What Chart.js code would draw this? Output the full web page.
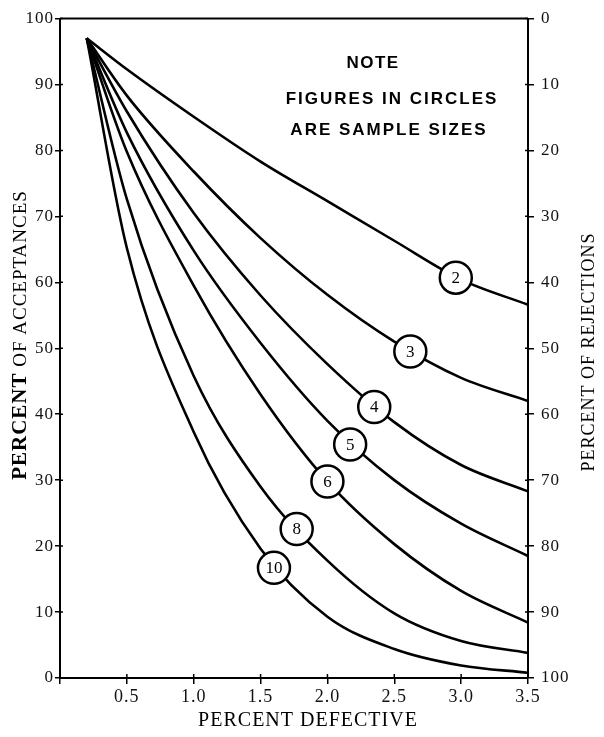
<!DOCTYPE html>
<html>
<head>
<meta charset="utf-8">
<script src="https://cdn.jsdelivr.net/npm/chart.js@4.4.1/dist/chart.umd.min.js"></script>
<style>
  html, body { margin: 0; padding: 0; background: #fff; }
</style>
</head>
<body>
<canvas id="ocChart" width="604" height="737"></canvas>
<script>
// percent defective (x) and percent of acceptances for each sample size
const defectPct = [0.2, 0.5, 1.0, 1.5, 2.0, 2.5, 3.0, 3.5];
const accept2  = [97, 92.3, 85.1, 78.3, 72.3, 66.3, 60.4, 56.6];
const accept3  = [97, 88.3, 76.8, 66.7, 58.1, 51.0, 45.5, 42.0];
const accept4  = [97, 85.9, 70.5, 58.0, 47.6, 38.8, 32.3, 28.3];
const accept5  = [97, 82.7, 64.8, 50.8, 39.0, 30.0, 23.4, 18.5];
const accept6  = [97, 79.8, 59.5, 43.0, 29.8, 20.3, 13.2, 8.4];
const accept8  = [97, 72.6, 45.8, 29.0, 17.8, 9.8, 5.6, 3.8];
const accept10 = [97, 65.2, 37.3, 19.6, 9.3, 4.4, 1.9, 0.8];

// circled sample-size labels and where they sit on the curves
const sampleSizes = ['2', '3', '4', '5', '6', '8', '10'];
const labelX = [2.96, 2.62, 2.35, 2.17, 2.0, 1.77, 1.6];
const labelY = [60.7, 49.5, 41.1, 35.4, 29.8, 22.6, 16.7];

const noteLines = ['NOTE', 'FIGURES IN CIRCLES', 'ARE SAMPLE SIZES'];

const curves = [accept2, accept3, accept4, accept5, accept6, accept8, accept10];

function toPoints(xs, ys) {
    return xs.map((x, i) => ({ x: x, y: ys[i] }));
}

const serif = '"Liberation Serif", "DejaVu Serif", serif';
const sans = '"Liberation Sans", Arial, sans-serif';

const datasets = [{
    type: 'scatter',
    label: 'sizes',
    data: toPoints(labelX, labelY),
    pointRadius: 16,
    pointHoverRadius: 16,
    pointBackgroundColor: '#fff',
    pointBorderColor: '#000',
    pointBorderWidth: 2.5,
    showLine: false,
    order: 0
}];
curves.forEach((c, i) => {
    datasets.push({
        label: 'n=' + sampleSizes[i],
        data: toPoints(defectPct, c),
        borderColor: '#000',
        borderWidth: 2.6,
        pointRadius: 0,
        fill: false,
        cubicInterpolationMode: 'monotone',
        order: 1
    });
});

// draws the frame top, inner ticks, the axis titles, the note and the numbers in circles
const decorPlugin = {
    id: 'decor',
    beforeDraw(chart) {
        chart.ctx.letterSpacing = '1px';
    },
    afterDatasetsDraw(chart) {
        const ctx = chart.ctx;
        const meta = chart.getDatasetMeta(0);
        ctx.save();
        ctx.letterSpacing = '0px';
        ctx.fillStyle = '#000';
        ctx.font = '17px ' + serif;
        ctx.textAlign = 'center';
        ctx.textBaseline = 'middle';
        meta.data.forEach((pt, i) => {
            ctx.fillText(sampleSizes[i], pt.x, pt.y + 1);
        });
        ctx.restore();
    },
    afterDraw(chart) {
        const ctx = chart.ctx;
        const area = chart.chartArea;
        const sx = chart.scales.x, sy = chart.scales.y, sr = chart.scales.yR;
        ctx.save();
        ctx.strokeStyle = '#000';
        ctx.lineWidth = 2;
        ctx.beginPath();
        ctx.moveTo(area.left, area.top);
        ctx.lineTo(area.right, area.top);
        ctx.stroke();

        // short tick stubs inside the frame
        ctx.lineWidth = 1.5;
        ctx.beginPath();
        sy.ticks.forEach(t => {
            const p = sy.getPixelForValue(t.value);
            ctx.moveTo(area.left, p); ctx.lineTo(area.left + 3, p);
        });
        sr.ticks.forEach(t => {
            const p = sr.getPixelForValue(t.value);
            ctx.moveTo(area.right - 3, p); ctx.lineTo(area.right, p);
        });
        sx.ticks.forEach(t => {
            if (t.value === 0) return;
            const p = sx.getPixelForValue(t.value);
            ctx.moveTo(p, area.bottom - 4); ctx.lineTo(p, area.bottom);
        });
        ctx.stroke();

        ctx.fillStyle = '#000';
        ctx.textBaseline = 'middle';
        ctx.letterSpacing = '1px';

        // x title
        ctx.textAlign = 'center';
        ctx.font = '20px ' + serif;
        ctx.fillText('PERCENT DEFECTIVE', 308, 721);

        // left title: bold PERCENT + regular rest
        ctx.save();
        ctx.translate(21, 335);
        ctx.rotate(-Math.PI / 2);
        ctx.textAlign = 'left';
        ctx.font = 'bold 21px ' + serif;
        const w1 = ctx.measureText('PERCENT').width;
        ctx.font = '19px ' + serif;
        const w2 = ctx.measureText(' OF ACCEPTANCES').width;
        const start = -(w1 + w2) / 2;
        ctx.font = 'bold 21px ' + serif;
        ctx.fillText('PERCENT', start, 0);
        ctx.font = '19px ' + serif;
        ctx.fillText(' OF ACCEPTANCES', start + w1, 0);
        ctx.restore();

        // right title
        ctx.save();
        ctx.translate(589, 352);
        ctx.rotate(-Math.PI / 2);
        ctx.textAlign = 'center';
        ctx.font = '18px ' + serif;
        ctx.fillText('PERCENT OF REJECTIONS', 0, 0);
        ctx.restore();

        // note
        ctx.textAlign = 'center';
        ctx.font = 'bold 17px ' + sans;
        ctx.letterSpacing = '1.5px';
        ctx.fillText(noteLines[0], 373, 63);
        ctx.letterSpacing = '2px';
        ctx.fillText(noteLines[1], 392, 99);
        ctx.fillText(noteLines[2], 389, 130);
        ctx.restore();
    }
};

const tickFont = { family: serif, size: 17 };

new Chart(document.getElementById('ocChart').getContext('2d'), {
    type: 'line',
    data: { datasets: datasets },
    options: {
        responsive: false,
        animation: false,
        layout: { padding: { top: 14, left: 0, right: 0, bottom: 0 } },
        plugins: { legend: { display: false }, tooltip: { enabled: false } },
        scales: {
            x: {
                type: 'linear',
                min: 0,
                max: 3.5,
                ticks: {
                    stepSize: 0.5,
                    color: '#111',
                    font: { family: serif, size: 18 },
                    padding: 2,
                    callback: v => (v === 0 ? '' : v.toFixed(1))
                },
                grid: { drawOnChartArea: false, tickLength: 6, color: '#000', lineWidth: 1.5 },
                border: { color: '#000', width: 2 },
                afterFit: s => { s.height = 59; }
            },
            y: {
                position: 'left',
                min: 0,
                max: 100,
                ticks: { stepSize: 10, color: '#111', font: tickFont, padding: 1 },
                grid: { drawOnChartArea: false, tickLength: 5, color: '#000', lineWidth: 1.5 },
                border: { color: '#000', width: 2 },
                afterFit: s => { s.width = 60; }
            },
            yR: {
                position: 'right',
                min: 0,
                max: 100,
                reverse: true,
                ticks: { stepSize: 10, color: '#111', font: tickFont, padding: 7 },
                grid: { drawOnChartArea: false, tickLength: 6, color: '#000', lineWidth: 1.5 },
                border: { color: '#000', width: 2 },
                afterFit: s => { s.width = 76; }
            }
        }
    },
    plugins: [decorPlugin]
});
</script>
</body>
</html>
